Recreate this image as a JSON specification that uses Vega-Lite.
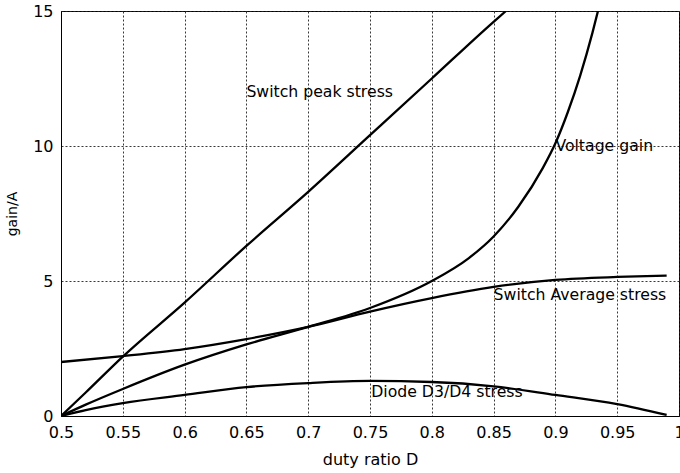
{
  "$schema": "https://vega.github.io/schema/vega-lite/v6.json",
  "width": 618,
  "height": 405,
  "autosize": {"type": "none"},
  "padding": {"left": 61, "top": 11, "right": 1, "bottom": 57},
  "background": "white",
  "config": {
    "view": {"stroke": "black", "strokeWidth": 1},
    "font": "DejaVu Sans",
    "axis": {
      "domainColor": "black",
      "gridColor": "#222",
      "gridDash": [2, 2],
      "gridOpacity": 0.9,
      "gridWidth": 1,
      "tickSize": 0,
      "labelColor": "black",
      "titleColor": "black",
      "labelFont": "DejaVu Sans",
      "titleFont": "DejaVu Sans",
      "labelFontSize": 16,
      "titleFontWeight": "normal"
    }
  },
  "datasets": {
    "curves": [
      {"D": 0.5, "v": 0, "s": "Switch peak stress"},
      {"D": 0.52, "v": 0.87, "s": "Switch peak stress"},
      {"D": 0.55, "v": 2.2, "s": "Switch peak stress"},
      {"D": 0.6, "v": 4.2, "s": "Switch peak stress"},
      {"D": 0.65, "v": 6.3, "s": "Switch peak stress"},
      {"D": 0.7, "v": 8.3, "s": "Switch peak stress"},
      {"D": 0.75, "v": 10.4, "s": "Switch peak stress"},
      {"D": 0.8, "v": 12.5, "s": "Switch peak stress"},
      {"D": 0.85, "v": 14.6, "s": "Switch peak stress"},
      {"D": 0.86, "v": 15.0, "s": "Switch peak stress"},
      {"D": 0.5, "v": 0, "s": "Voltage gain"},
      {"D": 0.52, "v": 0.42, "s": "Voltage gain"},
      {"D": 0.55, "v": 1.0, "s": "Voltage gain"},
      {"D": 0.6, "v": 1.9, "s": "Voltage gain"},
      {"D": 0.65, "v": 2.65, "s": "Voltage gain"},
      {"D": 0.7, "v": 3.3, "s": "Voltage gain"},
      {"D": 0.75, "v": 4.0, "s": "Voltage gain"},
      {"D": 0.8, "v": 5.0, "s": "Voltage gain"},
      {"D": 0.83, "v": 5.85, "s": "Voltage gain"},
      {"D": 0.85, "v": 6.65, "s": "Voltage gain"},
      {"D": 0.87, "v": 7.75, "s": "Voltage gain"},
      {"D": 0.89, "v": 9.2, "s": "Voltage gain"},
      {"D": 0.9, "v": 10.1, "s": "Voltage gain"},
      {"D": 0.91, "v": 11.25, "s": "Voltage gain"},
      {"D": 0.92, "v": 12.6, "s": "Voltage gain"},
      {"D": 0.93, "v": 14.2, "s": "Voltage gain"},
      {"D": 0.935, "v": 15.1, "s": "Voltage gain"},
      {"D": 0.5, "v": 2.0, "s": "Switch Average stress"},
      {"D": 0.55, "v": 2.22, "s": "Switch Average stress"},
      {"D": 0.6, "v": 2.48, "s": "Switch Average stress"},
      {"D": 0.65, "v": 2.85, "s": "Switch Average stress"},
      {"D": 0.7, "v": 3.3, "s": "Switch Average stress"},
      {"D": 0.75, "v": 3.87, "s": "Switch Average stress"},
      {"D": 0.8, "v": 4.37, "s": "Switch Average stress"},
      {"D": 0.85, "v": 4.78, "s": "Switch Average stress"},
      {"D": 0.9, "v": 5.04, "s": "Switch Average stress"},
      {"D": 0.95, "v": 5.15, "s": "Switch Average stress"},
      {"D": 0.99, "v": 5.2, "s": "Switch Average stress"},
      {"D": 0.5, "v": 0, "s": "Diode D3/D4 stress"},
      {"D": 0.52, "v": 0.22, "s": "Diode D3/D4 stress"},
      {"D": 0.55, "v": 0.48, "s": "Diode D3/D4 stress"},
      {"D": 0.6, "v": 0.78, "s": "Diode D3/D4 stress"},
      {"D": 0.65, "v": 1.07, "s": "Diode D3/D4 stress"},
      {"D": 0.7, "v": 1.22, "s": "Diode D3/D4 stress"},
      {"D": 0.75, "v": 1.3, "s": "Diode D3/D4 stress"},
      {"D": 0.8, "v": 1.26, "s": "Diode D3/D4 stress"},
      {"D": 0.85, "v": 1.1, "s": "Diode D3/D4 stress"},
      {"D": 0.9, "v": 0.78, "s": "Diode D3/D4 stress"},
      {"D": 0.95, "v": 0.44, "s": "Diode D3/D4 stress"},
      {"D": 0.99, "v": 0.04, "s": "Diode D3/D4 stress"}
    ],
    "labels": [
      {"D": 0.65, "v": 12.0, "t": "Switch peak stress"},
      {"D": 0.9, "v": 10.0, "t": "Voltage gain"},
      {"D": 0.85, "v": 4.48, "t": "Switch Average stress"},
      {"D": 0.751, "v": 0.89, "t": "Diode D3/D4 stress"}
    ]
  },
  "layer": [
    {
      "data": {"name": "curves"},
      "mark": {"type": "line", "color": "black", "strokeWidth": 2.3, "clip": true, "interpolate": "monotone"},
      "encoding": {
        "x": {
          "field": "D", "type": "quantitative",
          "scale": {"domain": [0.5, 1], "nice": false, "zero": false},
          "axis": {
            "values": [0.5, 0.55, 0.6, 0.65, 0.7, 0.75, 0.8, 0.85, 0.9, 0.95, 1],
            "format": "~g",
            "title": "duty ratio D",
            "titleFontSize": 16,
            "titlePadding": 11,
            "labelPadding": 8,
            "labelFlush": false,
            "labelOverlap": false,
            "grid": true
          }
        },
        "y": {
          "field": "v", "type": "quantitative",
          "scale": {"domain": [0, 15], "nice": false},
          "axis": {
            "values": [0, 5, 10, 15],
            "title": "gain/A",
            "titleFontSize": 14,
            "titlePadding": 13,
            "labelPadding": 8,
            "labelFlush": false,
            "grid": true
          }
        },
        "detail": {"field": "s", "type": "nominal"}
      }
    },
    {
      "data": {"name": "labels"},
      "mark": {"type": "text", "align": "left", "baseline": "middle", "fontSize": 15.7, "font": "DejaVu Sans", "color": "black"},
      "encoding": {
        "x": {"field": "D", "type": "quantitative"},
        "y": {"field": "v", "type": "quantitative"},
        "text": {"field": "t", "type": "nominal"}
      }
    }
  ]
}
